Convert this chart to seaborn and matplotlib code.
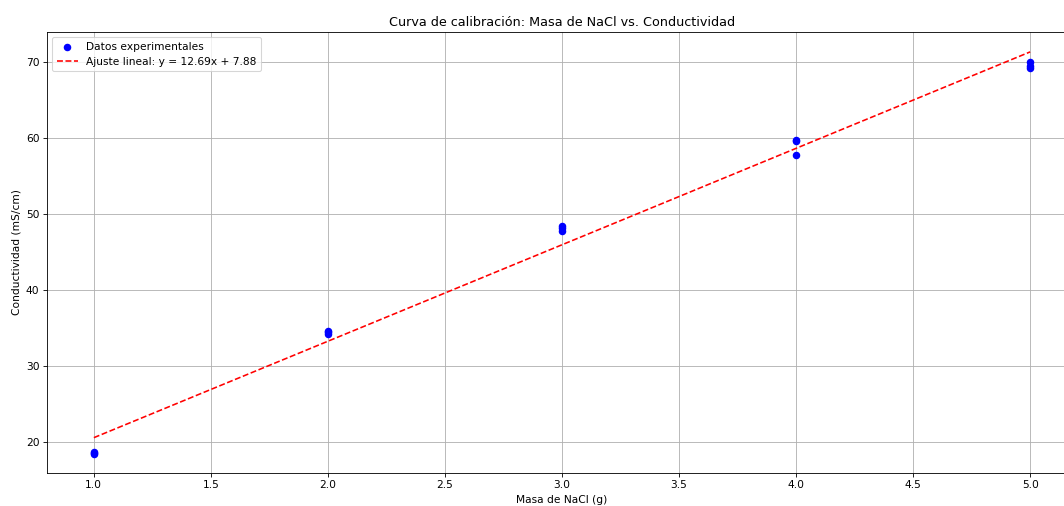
import numpy as np
import pandas as pd
import matplotlib
matplotlib.use("Agg")
import matplotlib.pyplot as plt
import seaborn as sns

# Mediciones de conductividad para cada masa de NaCl (tres réplicas)
masa_g = [1.0, 1.0, 1.0, 2.0, 2.0, 2.0, 3.0, 3.0, 3.0, 4.0, 4.0, 4.0, 5.0, 5.0, 5.0]
conductividad = [18.4, 18.6, 18.7, 34.2, 34.5, 34.6, 47.8, 48.1, 48.4,
                 59.6, 59.7, 57.8, 69.2, 69.5, 70.0]

# Parámetros del ajuste lineal
pendiente = 12.69
intercepto = 7.88

df = pd.DataFrame({"masa": masa_g, "cond": conductividad})
x_fit = np.array(sorted(set(masa_g)))
df_fit = pd.DataFrame({"masa": x_fit, "cond": pendiente * x_fit + intercepto})

DPI = 76.8
fig = plt.figure(figsize=(1064 / DPI, 506 / DPI), dpi=DPI)
ax = fig.add_axes([0.0442, 0.0652, 0.968, 0.8716])

sns.scatterplot(data=df, x="masa", y="cond", ax=ax, color="blue", s=50,
                linewidth=0, label="Datos experimentales", zorder=3)
sns.lineplot(data=df_fit, x="masa", y="cond", ax=ax, color="red",
             linestyle="--", linewidth=1.5,
             label=f"Ajuste lineal: y = {pendiente:.2f}x + {intercepto:.2f}")

ax.set_xlim(0.8, 5.2)
ax.set_ylim(15.92, 73.95)
ax.set_xlabel("Masa de NaCl (g)")
ax.set_ylabel("Conductividad (mS/cm)")
ax.set_title("Curva de calibración: Masa de NaCl vs. Conductividad")
ax.grid(True, color="#b0b0b0", linewidth=0.8)
ax.legend(loc="upper left")

fig.savefig("out.png", dpi=DPI)
